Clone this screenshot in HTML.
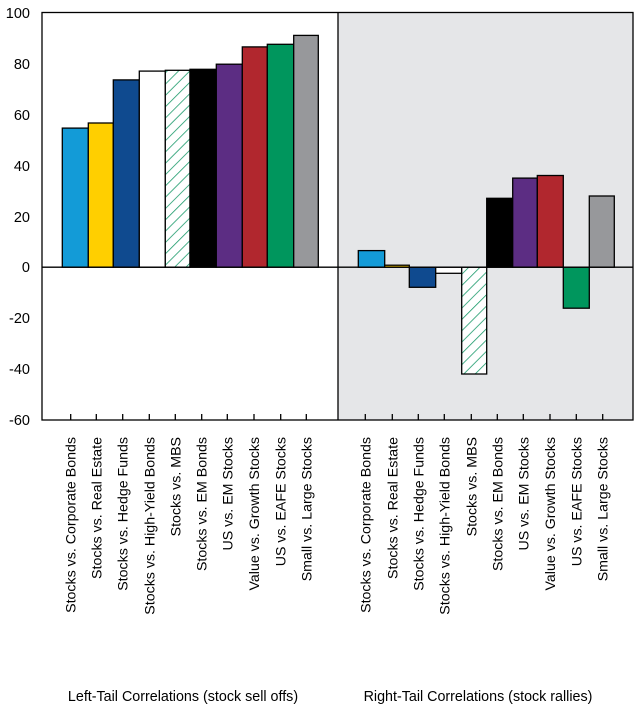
<!DOCTYPE html>
<html><head><meta charset="utf-8"><style>body{margin:0;background:#fff}svg{display:block}text{font-family:"Liberation Sans",sans-serif;fill:#000}</style></head>
<body>
<svg width="636" height="710" viewBox="0 0 636 710" xmlns="http://www.w3.org/2000/svg">
<defs>
<pattern id="h" patternUnits="userSpaceOnUse" width="8" height="8" patternTransform="rotate(45)">
<rect width="8" height="8" fill="#fff"/><line x1="0" y1="0" x2="0" y2="8" stroke="#1a9a6a" stroke-width="1.6"/>
</pattern>
</defs>
<rect x="338" y="12.5" width="295" height="407.5" fill="#e5e6e8"/>
<g stroke="#000" stroke-width="1.3">
<rect x="62.3" y="128.1" width="26" height="139.1" fill="#139bd7"/>
<rect x="88.3" y="123.0" width="25" height="144.2" fill="#ffcf00"/>
<rect x="113.3" y="79.9" width="26" height="187.3" fill="#0f4a8f"/>
<rect x="139.3" y="71.1" width="26" height="196.1" fill="#fff"/>
<rect x="165.3" y="70.3" width="24.7" height="196.9" fill="url(#h)"/>
<rect x="190" y="69.3" width="26.3" height="197.9" fill="#000"/>
<rect x="216.3" y="64.2" width="26" height="203" fill="#5c2d83"/>
<rect x="242.3" y="46.9" width="25" height="220.3" fill="#b1272e"/>
<rect x="267.3" y="44.3" width="26.4" height="222.9" fill="#00965d"/>
<rect x="293.7" y="35.4" width="24.6" height="231.8" fill="#97989b"/>
<rect x="358.3" y="250.6" width="26.4" height="16.6" fill="#139bd7"/>
<rect x="384.7" y="265.2" width="24.6" height="2" fill="#ffcf00"/>
<rect x="409.3" y="267.2" width="26.4" height="20.1" fill="#0f4a8f"/>
<rect x="435.7" y="267.2" width="26" height="6.1" fill="#fff"/>
<rect x="461.7" y="267.2" width="25" height="106.8" fill="url(#h)"/>
<rect x="486.7" y="198.3" width="26" height="68.9" fill="#000"/>
<rect x="512.7" y="178.1" width="24.6" height="89.1" fill="#5c2d83"/>
<rect x="537.3" y="175.5" width="26" height="91.7" fill="#b1272e"/>
<rect x="563.3" y="267.2" width="26" height="41" fill="#00965d"/>
<rect x="589.3" y="196" width="25" height="71.2" fill="#97989b"/>
</g>
<g stroke="#000" stroke-width="1.3" fill="none">
<rect x="42" y="12.5" width="591" height="407.5"/>
<line x1="338" y1="12.5" x2="338" y2="420"/>
<line x1="42" y1="267.2" x2="633" y2="267.2"/>
<path d="M70.7 414v6M96.3 414v6M122.7 414v6M149.3 414v6M175.3 414v6M201.7 414v6M227.3 414v6M254 414v6M280.7 414v6M306.3 414v6M365.3 414v6M392.3 414v6M418.3 414v6M444.3 414v6M471.3 414v6M497.3 414v6M523.3 414v6M550 414v6M576.3 414v6M602.7 414v6"/>
</g>
<g font-size="14.5" text-anchor="end">
<text x="30" y="18">100</text><text x="30" y="69">80</text><text x="30" y="120">60</text><text x="30" y="171">40</text><text x="30" y="222">20</text><text x="30" y="272">0</text><text x="30" y="323">-20</text><text x="30" y="374">-40</text><text x="30" y="425">-60</text>
</g>
<g font-size="14.2" text-anchor="end">
<text transform="translate(75.7,437) rotate(-90)">Stocks vs. Corporate Bonds</text>
<text transform="translate(101.3,437) rotate(-90)">Stocks vs. Real Estate</text>
<text transform="translate(127.7,437) rotate(-90)">Stocks vs. Hedge Funds</text>
<text transform="translate(154.3,437) rotate(-90)">Stocks vs. High-Yield Bonds</text>
<text transform="translate(180.3,437) rotate(-90)">Stocks vs. MBS</text>
<text transform="translate(206.7,437) rotate(-90)">Stocks vs. EM Bonds</text>
<text transform="translate(232.3,437) rotate(-90)">US vs. EM Stocks</text>
<text transform="translate(259,437) rotate(-90)">Value vs. Growth Stocks</text>
<text transform="translate(285.7,437) rotate(-90)">US vs. EAFE Stocks</text>
<text transform="translate(311.3,437) rotate(-90)">Small vs. Large Stocks</text>
<text transform="translate(370.3,437) rotate(-90)">Stocks vs. Corporate Bonds</text>
<text transform="translate(397.3,437) rotate(-90)">Stocks vs. Real Estate</text>
<text transform="translate(423.3,437) rotate(-90)">Stocks vs. Hedge Funds</text>
<text transform="translate(449.3,437) rotate(-90)">Stocks vs. High-Yield Bonds</text>
<text transform="translate(476.3,437) rotate(-90)">Stocks vs. MBS</text>
<text transform="translate(502.3,437) rotate(-90)">Stocks vs. EM Bonds</text>
<text transform="translate(528.3,437) rotate(-90)">US vs. EM Stocks</text>
<text transform="translate(555,437) rotate(-90)">Value vs. Growth Stocks</text>
<text transform="translate(581.3,437) rotate(-90)">US vs. EAFE Stocks</text>
<text transform="translate(607.7,437) rotate(-90)">Small vs. Large Stocks</text>
</g>
<g font-size="14.3" text-anchor="middle">
<text x="183" y="701">Left-Tail Correlations (stock sell offs)</text>
<text x="478" y="701">Right-Tail Correlations (stock rallies)</text>
</g>
</svg>
</body></html>
